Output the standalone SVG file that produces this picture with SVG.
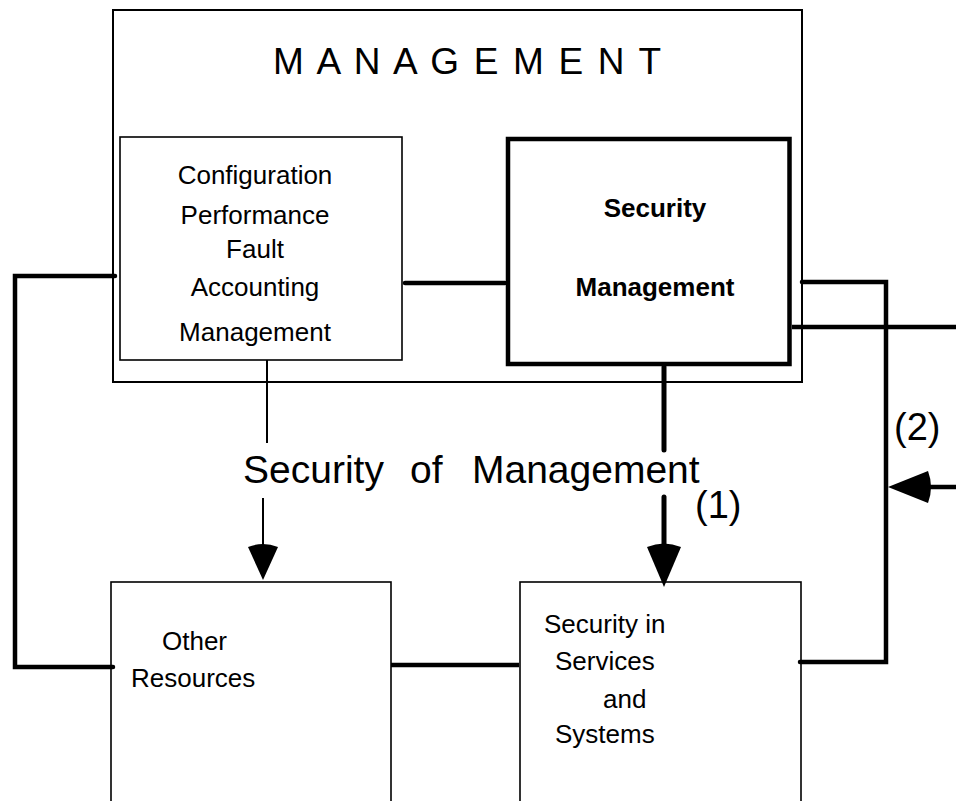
<svg xmlns="http://www.w3.org/2000/svg" width="956" height="801" viewBox="0 0 956 801">
<style>
  text { font-family: "Liberation Sans", Arial, sans-serif; fill: #000; }
  .box { fill: #fff; stroke: #000; stroke-width: 1.6; }
  .outer { fill: #fff; stroke: #000; stroke-width: 2; }
  .thickbox { fill: #fff; stroke: #000; stroke-width: 4.5; }
  .t26 { font-size: 26px; }
  .bold { font-weight: bold; }
  .conn { fill: none; stroke: #000; stroke-width: 4.5; stroke-linecap: round; stroke-linejoin: miter; }
  .thin { fill: none; stroke: #000; stroke-width: 2; }
  .head { fill: #000; stroke: none; }
</style>
<rect width="956" height="801" fill="#fff"/>

<g id="management">
  <rect class="outer" x="113" y="10" width="689" height="372"/>
  <text x="273" y="74" font-size="37" textLength="388" lengthAdjust="spacing">M A N A G E M E N T</text>
</g>

<g id="cpfa-management">
  <rect class="box" x="120" y="137" width="282" height="223"/>
  <text class="t26" x="255" y="184" text-anchor="middle">Configuration</text>
  <text class="t26" x="255" y="224" text-anchor="middle">Performance</text>
  <text class="t26" x="255" y="258" text-anchor="middle">Fault</text>
  <text class="t26" x="255" y="296" text-anchor="middle">Accounting</text>
  <text class="t26" x="255" y="341" text-anchor="middle">Management</text>
</g>

<g id="security-management">
  <rect class="thickbox" x="508" y="139" width="281.5" height="225"/>
  <text class="t26 bold" x="655" y="217" text-anchor="middle">Security</text>
  <text class="t26 bold" x="655" y="296" text-anchor="middle">Management</text>
</g>

<g id="other-resources">
  <rect class="box" x="111" y="582" width="280" height="240"/>
  <text class="t26" x="162" y="650">Other</text>
  <text class="t26" x="131" y="687">Resources</text>
</g>

<g id="security-in-services">
  <rect class="box" x="520" y="582" width="281" height="240"/>
  <text class="t26" x="544" y="633">Security in</text>
  <text class="t26" x="555" y="670">Services</text>
  <text class="t26" x="603" y="708">and</text>
  <text class="t26" x="555" y="743">Systems</text>
</g>

<g id="labels">
  <text font-size="39" y="483"><tspan x="243">Security</tspan><tspan x="410">of</tspan><tspan x="472">Management</tspan></text>
  <text font-size="38" x="695" y="518">(1)</text>
  <text font-size="38" x="894" y="440">(2)</text>
</g>

<g id="connectors">
  <!-- left loop: management box to other resources -->
  <polyline class="conn" points="115,276 15,276 15,667 113,667"/>
  <!-- config to security management -->
  <line class="conn" x1="405" y1="283" x2="505" y2="283"/>
  <!-- other resources to security in services -->
  <line class="conn" x1="391" y1="665" x2="519" y2="665" style="stroke-linecap:butt"/>
  <!-- right loop -->
  <polyline class="conn" points="802,282 886,282 886,662 800,662"/>
  <!-- security management to right edge -->
  <line class="conn" x1="792" y1="327" x2="956" y2="327" style="stroke-linecap:butt"/>
  <!-- incoming arrow (2) -->
  <line class="conn" x1="926" y1="487" x2="956" y2="487" style="stroke-linecap:butt"/>
  <path class="head" d="M888,487 L928,471 Q934,487 928,503 Z"/>
  <!-- thin line from config box -->
  <line class="thin" x1="267" y1="360" x2="267" y2="443"/>
  <line class="thin" x1="263" y1="498" x2="263" y2="550"/>
  <path class="head" d="M263,580 L248,547 Q263,541 278,547 Z"/>
  <!-- thick arrow (1) from security management -->
  <line class="conn" x1="664" y1="367" x2="664" y2="450" style="stroke-width:5"/>
  <line class="conn" x1="664" y1="497" x2="664" y2="550" style="stroke-width:5"/>
  <path class="head" d="M664,587 L647,547 Q664,540 681,547 Z"/>
</g>
</svg>
